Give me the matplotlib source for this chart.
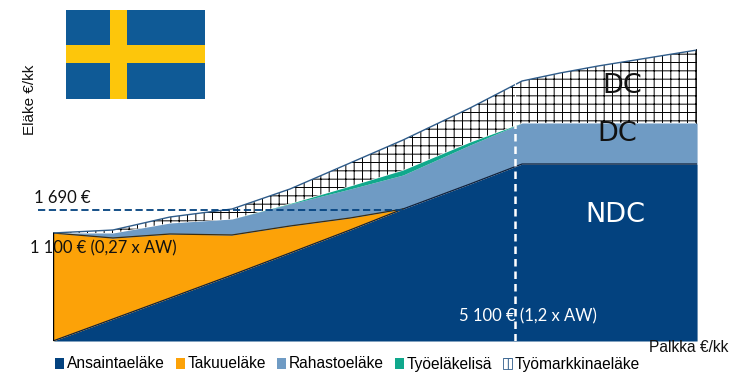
import matplotlib
matplotlib.use("Agg")
import matplotlib.pyplot as plt
from matplotlib.patches import Patch

W, H = 751, 385

# salary nodes (EUR/month), pension layers are read off the picture (no scale in the original)
salary = [0, 662, 1291, 1976, 2616, 3279, 3864, 4604, 5178, 5597, 6017, 7110]
ansainta = [0, 22, 43, 66, 88, 111, 132, 157, 177, 177, 177, 177]
takuu = [108, 81, 64, 40, 27, 12, 0, 0, 0, 0, 0, 0]
rahasto = [0, 5, 11, 16, 22, 29, 34, 39, 41, 41, 41, 41]
lisa = [0, 0, 0, 0, 0.5, 3, 5, 3, 0, 0, 0, 0]
tyomarkkina = [0, 3, 6, 10, 14.5, 23, 30, 34, 42, 50, 57, 73]

colors = ["#03427f", "#fca208", "#6f9bc4", "#10a88c"]
labels = ["Ansaintaeläke", "Takuueläke", "Rahastoeläke", "Työeläkelisä", "Työmarkkinaeläke"]

plt.rcParams["hatch.linewidth"] = 0.7
plt.rcParams["font.family"] = ["Liberation Sans", "DejaVu Sans"]

fig = plt.figure(figsize=(W / 100, H / 100), dpi=100)
ax = fig.add_axes([53 / W, 1 - 341 / H, (697 - 53) / W, 341 / H])
ax.set_xlim(0, (697 - 53) * 5100 / 462)
ax.set_ylim(0, 341)
ax.axis("off")

tops = []
total = [0] * len(salary)
layers = [ansainta, takuu, rahasto, lisa, tyomarkkina]
for lay in layers:
    new = [a + b for a, b in zip(total, lay)]
    tops.append((total, new))
    total = new

for i in range(4):
    ax.fill_between(salary, tops[i][0], tops[i][1], color=colors[i], lw=0)
ax.fill_between(salary, tops[4][0], tops[4][1], facecolor="white", edgecolor="black", hatch="++", lw=0)

ax.plot(salary, tops[0][1], color="#10203a", lw=0.9)
ax.plot(salary[:7], tops[1][1][:7], color="#3a2c10", lw=0.9)
ax.plot(salary, tops[4][1], color="#2f5c8a", lw=1)
ax.plot([salary[0], salary[0]], [0, tops[1][1][0]], color="black", lw=1)
ax.plot([salary[-1], salary[-1]], [tops[3][1][-1], tops[4][1][-1]], color="black", lw=1.2)

# reference lines
ax.plot([-166, 3864], [131, 131], color="#03427f", lw=1.3, ls=(0, (4, 2)), clip_on=False)
ax.plot([5100, 5100], [0, 216], color="white", lw=1.8, ls=(0, (3, 2)))
ax.plot([5100, 5100], [216, 260], color="white", lw=0.8, ls=(0, (3, 2)))


def label(px, py, s, **kw):
    fig.text(px / W, 1 - py / H, s, va="center", **kw)


cal = ["Lato", "DejaVu Sans"]
label(34, 198, "1 690 €", family=cal, fontsize=12, color="#111111")
label(30, 248, "1 100 € (0,27 x AW)", family=cal, fontsize=11.9, color="#111111")
label(459, 316, "5 100 € (1,2 x AW)", family=cal, fontsize=12, color="white")
label(602, 86, "DC", family="DejaVu Sans", fontsize=19.5, color="#111111")
label(597, 134, "DC", family="DejaVu Sans", fontsize=19.5, color="#111111")
label(585, 215, "NDC", family="DejaVu Sans", fontsize=19.5, color="white")
label(649, 347, "Palkka €/kk", fontsize=11.2, color="#111111")
label(30, 100, "Eläke €/kk", fontsize=11, color="#111111", rotation=90, ha="center")

# flag
flag = fig.add_axes([66 / W, 1 - 99 / H, 139 / W, 89 / H])
flag.set_xlim(66, 205)
flag.set_ylim(99, 10)
flag.axis("off")
flag.axhspan(10, 99, color="#0f5a96", lw=0)
flag.axvspan(110, 127, color="#fdc60b", lw=0)
flag.axhspan(45, 63, color="#fdc60b", lw=0)

handles = [Patch(facecolor=c, edgecolor="none") for c in colors]
handles.append(Patch(facecolor="white", edgecolor="#2f5c8a", hatch="+", lw=0.6))
fig.legend(handles, labels, ncol=5, frameon=False, fontsize=11.2, loc="center left",
           bbox_to_anchor=(55 / W, 1 - 364 / H), handlelength=0.6, handleheight=0.7,
           handletextpad=0.15, columnspacing=0.71, borderpad=0, borderaxespad=0)

fig.savefig("out.png", dpi=100)
